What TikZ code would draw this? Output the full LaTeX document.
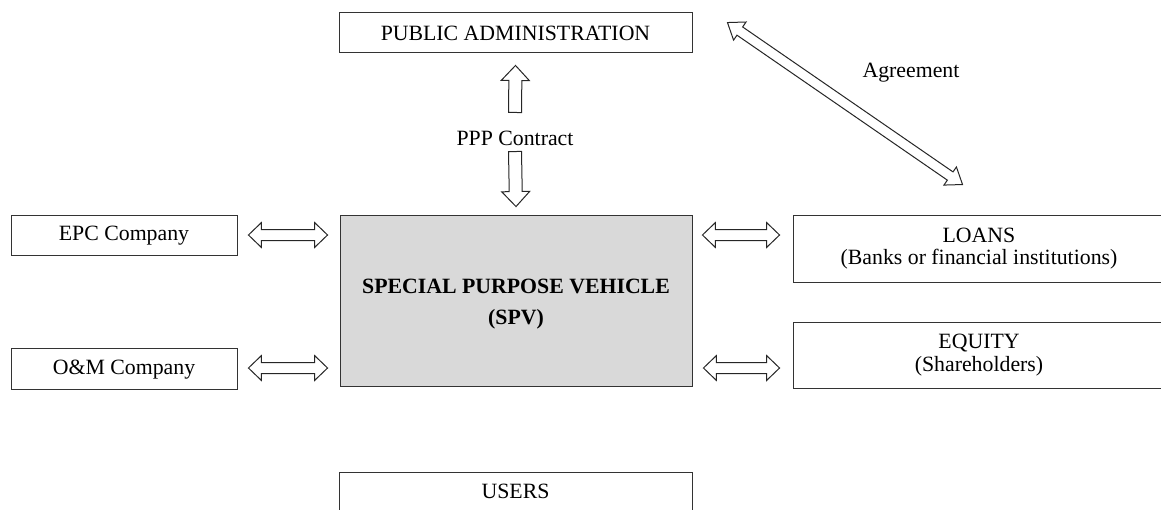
\documentclass[tikz,border=0pt]{standalone}
\usepackage{fontspec}
\setmainfont{Liberation Serif}
\usetikzlibrary{calc}

\tikzset{
  box/.style={draw=black!80, line width=0.9pt, inner sep=0pt, anchor=center,
    font=\fontsize{21.8}{22.5}\selectfont, align=center},
  label/.style={inner sep=0pt, font=\fontsize{21.8}{22.5}\selectfont, align=center},
  blockarrow/.style={draw=black!85, line width=1pt, fill=white, line join=miter},
}

% hollow arrow with heads at both ends: start, end, head length, head half-width, shaft half-width
\newcommand\twowayarrow[5]{%
  \draw[blockarrow] let \p1=(#1), \p2=(#2),
    \n1={atan2(\y2-\y1,\x2-\x1)}, \n2={veclen(\x2-\x1,\y2-\y1)} in
    [shift={(\p1)}, rotate=\n1]
    (0,0) -- (#3,#4) -- (#3,#5) -- ({\n2-#3},#5) -- ({\n2-#3},#4) -- (\n2,0)
    -- ({\n2-#3},-#4) -- ({\n2-#3},-#5) -- (#3,-#5) -- (#3,-#4) -- cycle;}

% hollow arrow with one head at the end
\newcommand\onewayarrow[5]{%
  \draw[blockarrow] let \p1=(#1), \p2=(#2),
    \n1={atan2(\y2-\y1,\x2-\x1)}, \n2={veclen(\x2-\x1,\y2-\y1)} in
    [shift={(\p1)}, rotate=\n1]
    (0,#5) -- ({\n2-#3},#5) -- ({\n2-#3},#4) -- (\n2,0)
    -- ({\n2-#3},-#4) -- ({\n2-#3},-#5) -- (0,-#5) -- cycle;}

\begin{document}
\begin{tikzpicture}[x=1pt, y=-1pt]
\useasboundingbox (0,0) rectangle (1161,509);
\clip (0,0) rectangle (1161,509);

% boxes
\node[box, minimum width=353pt, minimum height=40pt] (pa) at (515.5,32) {};
\node[label] at ($(pa.center)+(0,1)$) {PUBLIC ADMINISTRATION};
\node[box, fill=black!15, minimum width=352pt, minimum height=171pt] (spv) at (516,300.5) {};
\node[label, font=\fontsize{21.8}{31}\selectfont\bfseries] at ($(spv.center)+(0,4)$)
  {SPECIAL PURPOSE VEHICLE\\(SPV)};
\node[box, minimum width=226pt, minimum height=40pt] (epc) at (124,235) {};
\node[label] at ($(epc.center)+(0,1)$) {EPC Company};
\node[box, minimum width=226pt, minimum height=41pt] (om) at (124,368.5) {};
\node[label] at ($(om.center)+(0,1)$) {O\&M Company};
\node[box, minimum width=372pt, minimum height=67pt] (loans) at (979,248.5) {};
\node[label] at ($(loans.center)+(0,0)$) {LOANS\\(Banks or financial institutions)};
\node[box, minimum width=372pt, minimum height=66pt] (equity) at (979,355) {};
\node[label] at ($(equity.center)+(0,0)$) {EQUITY\\(Shareholders)};
\node[box, minimum width=353pt, minimum height=43pt] (users) at (515.5,493.5) {};
\node[label] at ($(users.north)+(0,20)$) {USERS};

% labels
\node[label] (ppp) at (515,138) {PPP Contract};
\node[label] (agree) at (911,73) {Agreement};

% arrow end points
\coordinate (e1) at ($(epc.east)+(11,0)$);
\coordinate (e2) at ($(spv.west |- epc.east)+(-12,0)$);
\coordinate (o1) at ($(om.east)+(11,-0.5)$);
\coordinate (o2) at ($(spv.west |- om.east)+(-12,-0.5)$);
\coordinate (l1) at ($(spv.east |- epc.east)+(10,0)$);
\coordinate (l2) at ($(loans.west |- epc.east)+(-13,0)$);
\coordinate (q1) at ($(spv.east |- om.east)+(11,-0.5)$);
\coordinate (q2) at ($(equity.west |- om.east)+(-13,-0.5)$);
\coordinate (u1) at ($(ppp.north)+(0,-18)$);
\coordinate (u2) at ($(pa.south)+(0,13)$);
\coordinate (d1) at ($(ppp.south)+(0,6)$);
\coordinate (d2) at ($(spv.north)+(0,-8)$);
\coordinate (a1) at ($(pa.north east)+(35,11)$);
\coordinate (a2) at ($(loans.north west)+(170,-30)$);

% connectors
\twowayarrow{e1}{e2}{13}{12.5}{5.5}
\twowayarrow{o1}{o2}{13}{12.5}{5.5}
\twowayarrow{l1}{l2}{13}{12.5}{5.5}
\twowayarrow{q1}{q2}{13}{12.5}{5.5}
\onewayarrow{u1}{u2}{15}{14}{6.5}
\onewayarrow{d1}{d2}{15}{14}{6.5}
\twowayarrow{a1}{a2}{15}{11}{5}
\end{tikzpicture}
\end{document}
